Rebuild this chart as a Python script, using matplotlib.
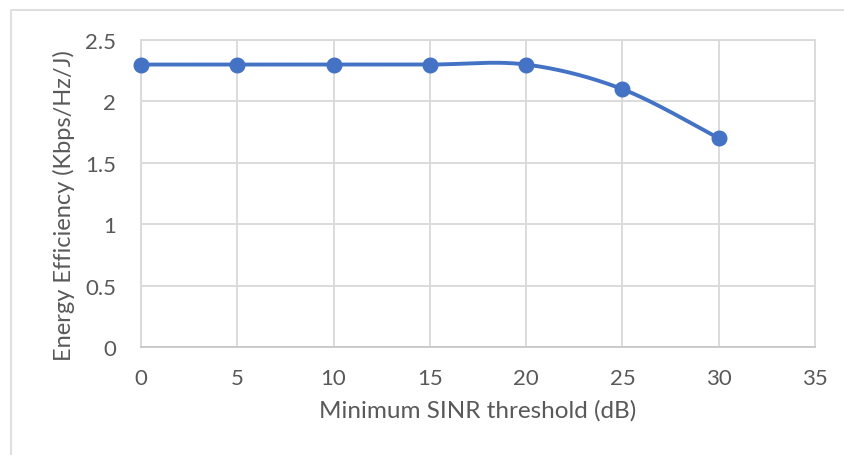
import numpy as np
import matplotlib.pyplot as plt
from matplotlib.patches import Rectangle

# minimum SINR threshold (dB) vs energy efficiency
sinr_db = [0, 5, 10, 15, 20, 25, 30]
energy_eff = [2.3, 2.3, 2.3, 2.3, 2.3, 2.1, 1.7]

x_ticks = [0, 5, 10, 15, 20, 25, 30, 35]
y_ticks = [0, 0.5, 1, 1.5, 2, 2.5]
y_tick_labels = ['0', '0.5', '1', '1.5', '2', '2.5']

blue = '#4472C4'
grid_col = '#D9D9D9'
text_col = '#595959'

plt.rcParams['font.family'] = ['Lato', 'DejaVu Sans']


def smooth_curve(xs, ys, n=40):
    # spreadsheet-style smoothing: cubic bezier with catmull-rom control points
    p = np.column_stack([xs, ys]).astype(float)
    pts = []
    for i in range(len(p) - 1):
        p0 = p[i - 1] if i > 0 else p[i]
        p3 = p[i + 2] if i + 2 < len(p) else p[i + 1]
        c1 = p[i] + (p[i + 1] - p0) / 6
        c2 = p[i + 1] - (p3 - p[i]) / 6
        t = np.linspace(0, 1, n)[:, None]
        seg = ((1 - t) ** 3 * p[i] + 3 * (1 - t) ** 2 * t * c1
               + 3 * (1 - t) * t ** 2 * c2 + t ** 3 * p[i + 1])
        pts.append(seg if i == 0 else seg[1:])
    pts = np.vstack(pts)
    return pts[:, 0], pts[:, 1]


fig = plt.figure(figsize=(8.45, 4.56), dpi=100)
ax = fig.add_axes([141 / 845, 1 - 348 / 456, 674 / 845, 307 / 456])

# outer chart frame
fig.patches.append(Rectangle((11 / 845, -0.1), 1.1, 1.1 - 11 / 456,
                             transform=fig.transFigure, fill=False,
                             edgecolor=grid_col, linewidth=1.2, zorder=0))

sx, sy = smooth_curve(sinr_db, energy_eff)
ax.plot(sx, sy, color=blue, linewidth=2.8, solid_capstyle='round', zorder=3,
        clip_on=False)
ax.plot(sinr_db, energy_eff, 'o', color=blue, markersize=10.5, zorder=4,
        clip_on=False)

ax.set_xlim(0, 35)
ax.set_ylim(0, 2.5)
ax.set_xticks(x_ticks)
ax.set_yticks(y_ticks)
ax.set_yticklabels(y_tick_labels)
ax.grid(True, color=grid_col, linewidth=1.3)
ax.set_axisbelow(True)
for side, sp in ax.spines.items():
    sp.set_color(grid_col)
    sp.set_linewidth(1.3)
ax.spines['bottom'].set_color('#C8C8C8')
ax.tick_params(length=0, labelsize=16, colors=text_col)
ax.tick_params(axis='x', pad=15)
ax.tick_params(axis='y', pad=18)

ax.set_xlabel('Minimum SINR threshold (dB)', fontsize=17.5, color=text_col,
              labelpad=8)
ax.set_ylabel('Energy Efficiency (Kbps/Hz/J)', fontsize=17, color=text_col)
ax.yaxis.set_label_coords(-0.098, 0.4625)

fig.savefig('out.png', dpi=100)
